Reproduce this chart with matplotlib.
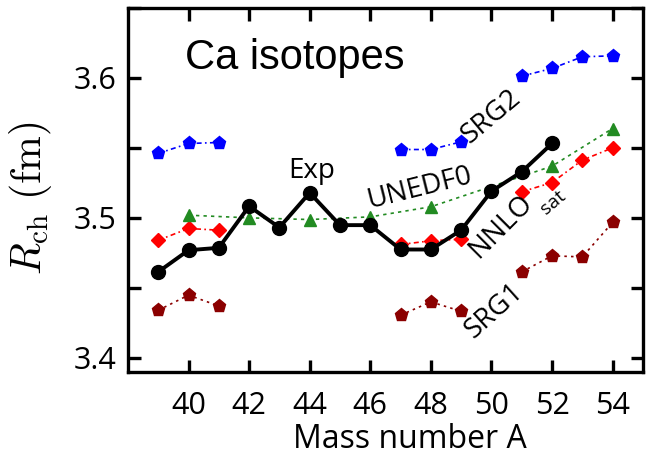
import numpy as np
import matplotlib
matplotlib.use("Agg")
import matplotlib.pyplot as plt
from matplotlib.ticker import MultipleLocator

plt.rcParams['mathtext.fontset'] = 'cm'

# Mass numbers and charge radii (fm), nan = no point / line break
A = np.arange(39, 55)
nan = np.nan
r_exp = [3.4614, 3.4769, 3.4786, 3.5083, 3.4931, 3.5179, 3.4948, 3.4948,
         3.4774, 3.4774, 3.4912, 3.5190, 3.5329, 3.5531, nan, nan]
r_srg2 = [3.5460, 3.5531, 3.5538, nan, nan, nan, nan, nan,
          3.5488, 3.5488, 3.5543, nan, 3.6012, 3.6067, 3.6150, 3.6157]
r_nnlo = [3.4840, 3.4924, 3.4912, nan, nan, nan, nan, nan,
          3.4810, 3.4836, 3.4848, nan, 3.5186, 3.5252, 3.5412, 3.5500]
r_srg1 = [3.4340, 3.4448, 3.4371, nan, nan, nan, nan, nan,
          3.4305, 3.4400, 3.4333, nan, 3.4614, 3.4729, 3.4721, 3.4967]
A_unedf = [40, 42, 44, 46, 48, 52, 54]
r_unedf = [3.5019, 3.5000, 3.4988, 3.5007, 3.5079, 3.5369, 3.5638]

xticks = [40, 42, 44, 46, 48, 50, 52, 54]
yticks = [3.4, 3.5, 3.6]

fig = plt.figure(figsize=(6.56, 4.58), dpi=100)
ax = fig.add_axes([0.195, 0.188, 0.785, 0.795])

ax.plot(A, r_srg2, color='#0000ff', lw=1.2, dashes=(3, 2, 1, 2),
        marker='p', ms=9.5, mec='#0000ff')
ax.plot(A, r_nnlo, color='#ff0000', lw=1.2, dashes=(3, 2, 1, 2),
        marker='D', ms=7, mec='#ff0000')
ax.plot(A, r_srg1, color='#8b0000', lw=1.2, dashes=(1.5, 2.5),
        marker='p', ms=9.5, mec='#8b0000')
ax.plot(A_unedf, r_unedf, color='#228b22', lw=1.2, dashes=(2, 2.5),
        marker='^', ms=9, mec='#228b22')
ax.plot(A, r_exp, color='black', lw=2.8, marker='o', ms=10, zorder=5)

ax.set_xlim(38, 55)
ax.set_ylim(3.39, 3.65)
ax.set_xticks(xticks)
ax.set_yticks(yticks)
ax.yaxis.set_minor_locator(MultipleLocator(0.05))
for s in ax.spines.values():
    s.set_linewidth(2.4)
ax.tick_params(which='both', direction='in', length=9, width=2.4,
               top=True, right=True)
ax.tick_params(axis='x', pad=14, labelsize=22)
ax.tick_params(axis='y', pad=8, labelsize=22)
for lab in ax.get_xticklabels() + ax.get_yticklabels():
    lab.set_family('Open Sans')

ax.set_xlabel('Mass number A', fontsize=23, family='Open Sans')
ax.xaxis.set_label_coords(0.548, -0.14)
fig.text(0.047, 0.567, r'$R_{\rm ch}\ (\rm fm)$', rotation=90,
         fontsize=30, ha='center', va='center')

ax.text(39.88, 3.6064, 'Ca isotopes', fontsize=30, family='Liberation Sans',
        ha='left', va='baseline')
lab = dict(family='Open Sans', fontsize=20, ha='center', va='center',
           rotation_mode='anchor')
ax.text(44.07, 3.5286, 'Exp', family='Open Sans', fontsize=20,
        ha='center', va='baseline')
ax.text(50.0, 3.572, 'SRG2', rotation=40, **lab)
ax.text(47.65, 3.521, 'UNEDF0', rotation=14, **lab)
ax.text(50.3, 3.4936, 'NNLO', rotation=45, **lab)
ax.text(52.05, 3.511, 'sat', rotation=40, family='Open Sans', fontsize=14,
        ha='center', va='center', rotation_mode='anchor')
ax.text(50.1, 3.4336, 'SRG1', rotation=42, **lab)

fig.savefig('out.png', dpi=100)
